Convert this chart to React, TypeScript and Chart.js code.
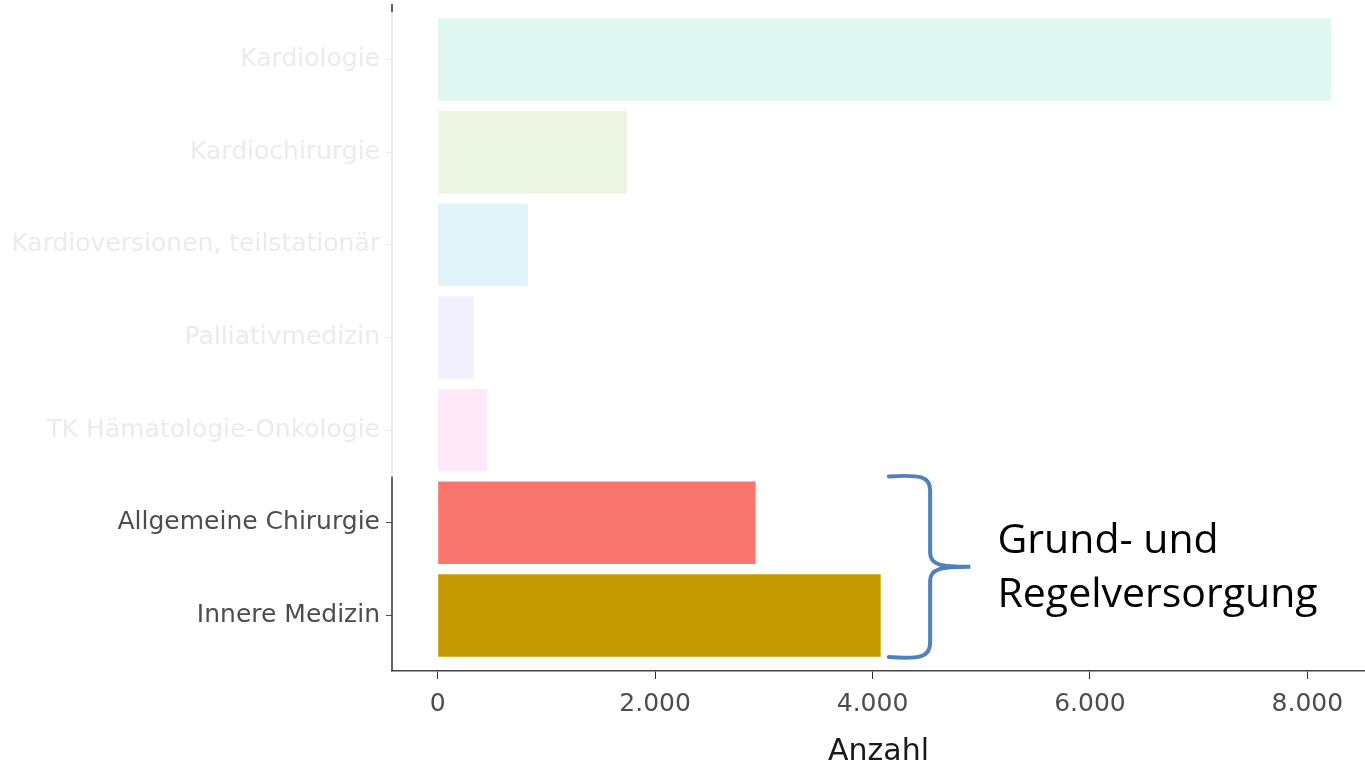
import React, { useEffect, useRef } from "react";
import { Chart, registerables } from "chart.js";

Chart.register(...registerables);

const categories = [
  "Kardiologie",
  "Kardiochirurgie",
  "Kardioversionen, teilstationär",
  "Palliativmedizin",
  "TK Hämatologie-Onkologie",
  "Allgemeine Chirurgie",
  "Innere Medizin",
];
const values = [8220, 1740, 830, 330, 455, 2925, 4075];
const barColors = ["#e0f6f1", "#ecf5e2", "#e1f4fa", "#f2f0fe", "#fde9f8", "#f8766d", "#c49a00"];
const faded = [true, true, true, true, true, false, false];
const xTicks = [0, 2000, 4000, 6000, 8000];
const xTickLabels = ["0", "2.000", "4.000", "6.000", "8.000"];
const xTitle = "Anzahl";
const annotationLines = ["Grund- und", "Regelversorgung"];

const LIGHT = "#ebebeb";
const DARK = "#4d4d4d";

export default function App() {
  const ref = useRef<HTMLCanvasElement | null>(null);
  useEffect(() => {
    if (!ref.current) return;
    const annot = {
      id: "annot",
      afterDraw(chart: any) {
        const { ctx, scales, chartArea } = chart;
        const x = scales.x;
        const y = scales.y;
        ctx.save();
        // y axis line: faded top part, dark bottom part
        const ax = chartArea.left;
        const split = y.getPixelForValue(4.5);
        ctx.lineWidth = 1.5;
        ctx.strokeStyle = "#e6e6e6";
        ctx.beginPath();
        ctx.moveTo(ax, chartArea.top);
        ctx.lineTo(ax, split);
        ctx.stroke();
        ctx.strokeStyle = "#333333";
        ctx.beginPath();
        ctx.moveTo(ax, split);
        ctx.lineTo(ax, chartArea.bottom);
        ctx.stroke();
        ctx.beginPath();
        ctx.moveTo(ax, chartArea.top);
        ctx.lineTo(ax, chartArea.top + 8);
        ctx.stroke();

        // brace
        const top = y.getPixelForValue(4.5);
        const bot = y.getPixelForValue(6.45);
        const mid = (top + bot) / 2;
        const xl = x.getPixelForValue(4150);
        const xv = x.getPixelForValue(4530);
        const xp = x.getPixelForValue(4900);
        const r = 14;
        ctx.strokeStyle = "#4f81bd";
        ctx.lineWidth = 4;
        ctx.lineCap = "round";
        ctx.beginPath();
        ctx.moveTo(xl, top);
        ctx.bezierCurveTo(xv - 10, top - 2, xv, top, xv, top + r);
        ctx.lineTo(xv, mid - r);
        ctx.bezierCurveTo(xv, mid - 2, xv + 10, mid, xp, mid);
        ctx.bezierCurveTo(xv + 10, mid, xv, mid + 2, xv, mid + r);
        ctx.lineTo(xv, bot - r);
        ctx.bezierCurveTo(xv, bot, xv - 10, bot + 2, xl, bot);
        ctx.stroke();

        // annotation text
        ctx.fillStyle = "#000000";
        ctx.font = '41px "Open Sans"';
        ctx.textAlign = "left";
        ctx.textBaseline = "alphabetic";
        const tx = x.getPixelForValue(5150);
        ctx.fillText(annotationLines[0], tx, mid - 14);
        ctx.fillText(annotationLines[1], tx, mid + 40);
        ctx.restore();
      },
    };
    const chart = new Chart(ref.current, {
      type: "bar",
      data: {
        datasets: [
          {
            data: values.map((v, i) => ({ x: v, y: i })),
            backgroundColor: barColors,
            borderWidth: 0,
            barPercentage: 0.89,
            categoryPercentage: 1,
          },
        ],
      },
      options: {
        indexAxis: "y",
        animation: false,
        responsive: false,
        maintainAspectRatio: false,
        layout: { padding: { top: 4, right: 0, left: 0, bottom: 0 } },
        plugins: { legend: { display: false }, tooltip: { enabled: false } },
        scales: {
          y: {
            type: "linear",
            reverse: true,
            offset: false,
            min: -0.6,
            max: 6.6,
            afterBuildTicks: (scale: any) => {
              scale.ticks = categories.map((_, i) => ({ value: i }));
            },
            afterFit: (scale: any) => {
              scale.width = 392;
              scale.paddingTop = 0;
              scale.paddingBottom = 0;
            },
            border: { display: false },
            grid: {
              offset: false,
              drawOnChartArea: false,
              drawTicks: true,
              tickLength: 6,
              lineWidth: 1,
              color: (ctx: any) => (faded[ctx.index] ? LIGHT : DARK),
            },
            ticks: {
              padding: 6,
              font: { family: "'DejaVu Sans', Verdana, sans-serif", size: 25 },
              color: (ctx: any) => (faded[ctx.index] ? LIGHT : DARK),
              callback: (v: any) => categories[v as number],
            },
          },
          x: {
            type: "linear",
            min: -420,
            max: 8530,
            afterBuildTicks: (scale: any) => {
              scale.ticks = xTicks.map((v) => ({ value: v }));
            },
            afterFit: (scale: any) => {
              scale.height = 96;
              scale.paddingLeft = 0;
              scale.paddingRight = 0;
            },
            border: { display: true, color: "#444444", width: 1.5 },
            grid: {
              drawOnChartArea: false,
              drawTicks: true,
              tickLength: 8,
              color: "#333333",
            },
            ticks: {
              padding: 10,
              maxRotation: 0,
              font: { family: "'DejaVu Sans', Verdana, sans-serif", size: 25 },
              color: DARK,
              callback: (v: any) => xTickLabels[xTicks.indexOf(v as number)],
            },
            title: {
              display: true,
              text: xTitle,
              color: "#1a1a1a",
              font: { family: "'DejaVu Sans', Verdana, sans-serif", size: 30, lineHeight: 1.0 },
              padding: { top: 9, bottom: 0 },
            },
          },
        },
      },
      plugins: [annot],
    });
    return () => chart.destroy();
  }, []);
  return (
    <div style={{ position: "absolute", left: 0, top: 0, width: 1365, height: 767, background: "#fff" }}>
      <canvas ref={ref} width={1365} height={767} style={{ display: "block" }} />
    </div>
  );
}
